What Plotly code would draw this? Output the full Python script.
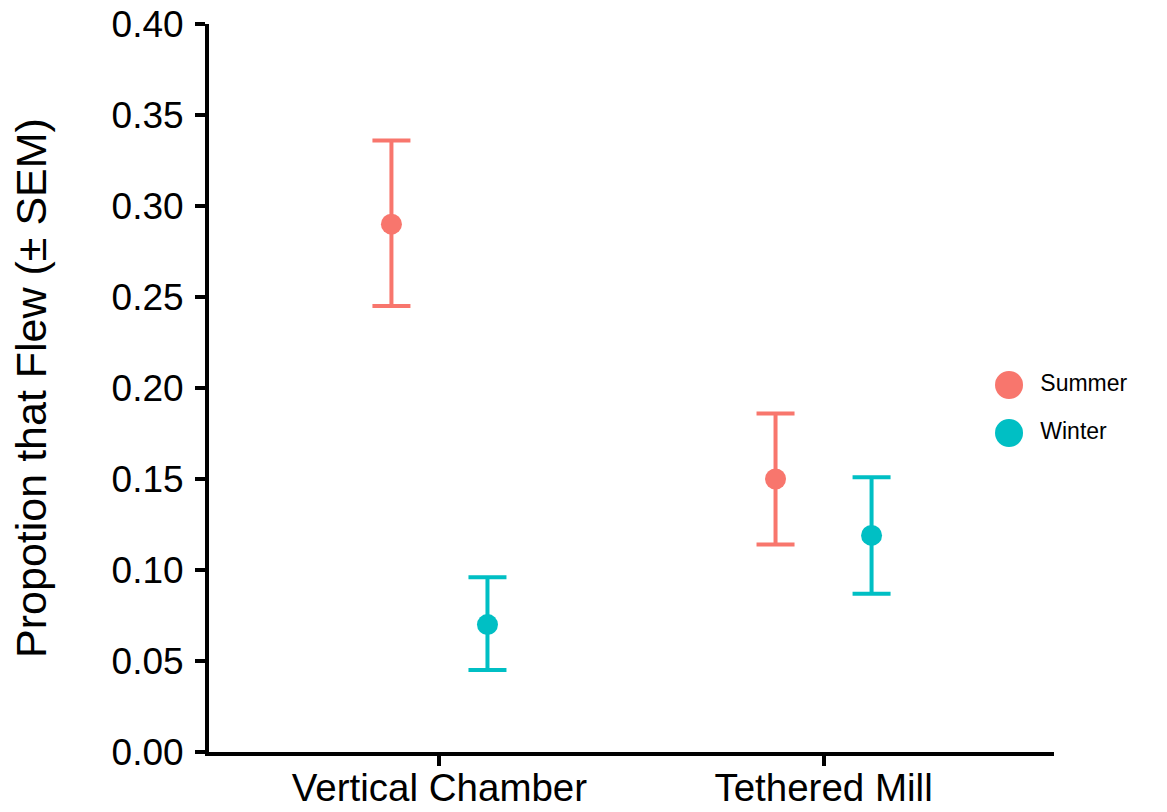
import plotly.graph_objects as go

# ---- data ----
categories = ["Vertical Chamber", "Tethered Mill"]
seasons = ["Summer", "Winter"]
summer_mean = [0.290, 0.150]
summer_upper = [0.336, 0.186]
summer_lower = [0.245, 0.114]
winter_mean = [0.070, 0.119]
winter_upper = [0.096, 0.151]
winter_lower = [0.045, 0.087]
y_ticks = [0.00, 0.05, 0.10, 0.15, 0.20, 0.25, 0.30, 0.35, 0.40]

colors = {"Summer": "#F8766D", "Winter": "#00BFC4"}
dodge = 0.125
FONT = "Liberation Sans, Arial, sans-serif"

series = {
    "Summer": (summer_mean, summer_upper, summer_lower, -dodge),
    "Winter": (winter_mean, winter_upper, winter_lower, dodge),
}

fig = go.Figure()
for name, (m, up, lo, off) in series.items():
    xs = [i + 1 + off for i in range(len(categories))]
    fig.add_trace(go.Scatter(
        x=xs, y=m, mode="markers", name=name, showlegend=False,
        marker=dict(color=colors[name], size=21),
        error_y=dict(type="data", symmetric=False,
                     array=[u - v for u, v in zip(up, m)],
                     arrayminus=[v - l for v, l in zip(m, lo)],
                     color=colors[name], thickness=4, width=19),
        xaxis="x", yaxis="y",
    ))

# manual legend (on an auxiliary axis pair)
leg_y = [1.0, 0.0]
for name, yy in zip(seasons, leg_y):
    fig.add_trace(go.Scatter(
        x=[0.0], y=[yy], mode="markers+text", text=["  " + name],
        textposition="middle right", showlegend=False, hoverinfo="skip",
        marker=dict(color=colors[name], size=28),
        textfont=dict(family=FONT, size=23, color="black"),
        xaxis="x2", yaxis="y2", cliponaxis=False,
    ))

W, H = 1167, 812
ml, mr, mt, mb = 209, 20, 24, 60
pw = W - ml - mr
main_right = (1054 - ml) / pw

fig.update_layout(
    width=W, height=H,
    margin=dict(l=ml, r=mr, t=mt, b=mb, autoexpand=False),
    paper_bgcolor="white", plot_bgcolor="white",
    font=dict(family=FONT, color="black"),
    xaxis=dict(domain=[0, main_right], range=[0.4, 2.6],
               tickvals=[1, 2], ticktext=categories, automargin=False,
               showgrid=False, zeroline=False,
               showline=True, linecolor="black", linewidth=4,
               ticks="outside", ticklen=10, tickwidth=4, tickcolor="black",
               ticklabelstandoff=-11,
               tickfont=dict(size=38.5, color="black")),
    yaxis=dict(range=[0, 0.4], tickvals=y_ticks, automargin=False,
               ticktext=[f"{v:.2f}" for v in y_ticks],
               showgrid=False, zeroline=False,
               showline=True, linecolor="black", linewidth=4,
               ticks="outside", ticklen=10, tickwidth=4, tickcolor="black",
               ticklabelstandoff=4,
               tickfont=dict(size=37, color="black"),
               title=dict(text="Propotion that Flew (± SEM)",
                          font=dict(size=43, color="black"), standoff=53)),
    xaxis2=dict(domain=[0.8429, 0.8629], range=[-1, 1], visible=False,
                anchor="y2", fixedrange=True),
    yaxis2=dict(domain=[0.4382, 0.5041], range=[0, 1], visible=False,
                anchor="x2", fixedrange=True),
)

fig.write_html("out.html")
